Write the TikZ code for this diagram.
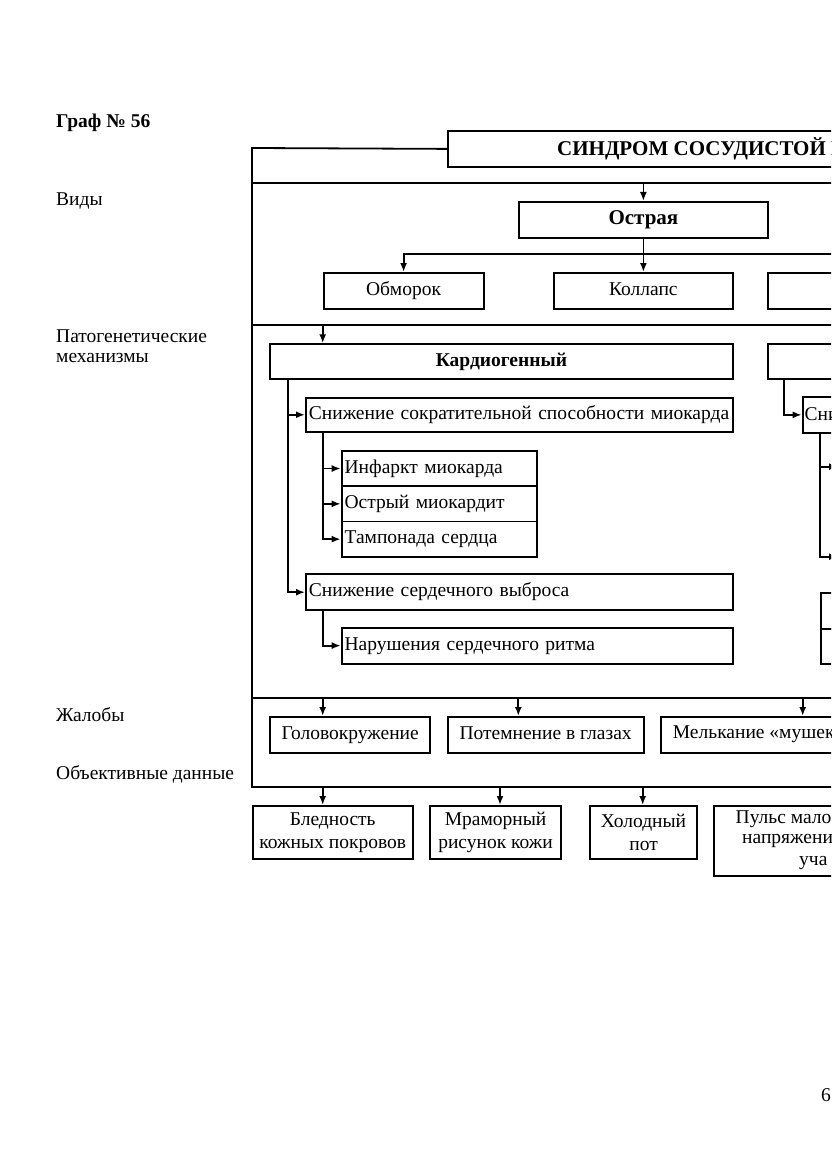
\documentclass[tikz,border=0pt]{standalone}
\usepackage{fontspec}
\setmainfont{Liberation Serif}
\usetikzlibrary{arrows.meta,calc}
\begin{document}
\begin{tikzpicture}[x=1pt,y=-1pt,
  font=\rmfamily\fontsize{19.5}{23}\selectfont,
  mbx/.style={draw, line width=1.8pt, inner sep=0pt, anchor=north west},
  bx/.style={mbx, text height=13.5pt, text depth=4.5pt},
  lbx/.style={bx, align=left, inner xsep=3pt},
  ln/.style={line width=1.8pt},
  ar/.style={line width=1.8pt, -{Latex[length=9pt,width=7pt]}},
  lab/.style={anchor=west, inner sep=0pt},
  bold/.style={font=\rmfamily\bfseries\fontsize{19.5}{23}\selectfont},
  bigbold/.style={font=\rmfamily\bfseries\fontsize{21}{24}\selectfont}]
\useasboundingbox (0,0) rectangle (831,1174);
\clip (0,0) rectangle (831,1174);

% left column labels
\node[lab, bold] (graf) at (56,123) {Граф № 56};
\node[lab] (vidy) at (56,201) {Виды};
\node[lab, align=left, font=\rmfamily\fontsize{19.5}{20}\selectfont, anchor=north west] (pat) at (56,330) {Патогенетические\\механизмы};
\node[lab] (zhal) at (56,715) {Жалобы};
\node[lab] (obj) at (56,774) {Объективные данные};

% band coordinates
\coordinate (topL) at (252,148);
\coordinate (bandA) at (252,183);
\coordinate (bandB) at (252,325);
\coordinate (bandC) at (252,698);
\coordinate (bandD) at (252,787);
\coordinate (bandAr) at (900,183);
\coordinate (bandBr) at (900,325);
\coordinate (bandCr) at (900,698);
\coordinate (bandDr) at (900,787);
\coordinate (colA) at (322.7,0);
\coordinate (colB) at (287.7,0);
\coordinate (colC) at (500,0);
\coordinate (colD) at (642.7,0);
\coordinate (colE) at (518.3,0);
\coordinate (colF) at (802.7,0);
\coordinate (colG) at (784.3,0);
\coordinate (colH) at (820,0);

% title box
\node[bx, minimum width=450, minimum height=36] (title) at (447,130) {};
\node[lab, bigbold] (titletxt) at (557,149) {СИНДРОМ СОСУДИСТОЙ Н};

% frame
\draw[ln, line join=miter] (title.west) -- (topL) -- (bandD) -- (bandDr);
\draw[ln] (bandA) -- (bandAr);
\draw[ln] (bandB) -- (bandBr);
\draw[ln] (bandC) -- (bandCr);

% kinds
\node[bx, bigbold, minimum width=249, minimum height=36] (ostr) at (518,201) {Острая};
\draw[ar] (ostr.north |- bandA) -- (ostr.north);
\node[bx, minimum width=160, minimum height=36] (obm) at (322.7,272) {Обморок};
\node[bx, minimum width=179, minimum height=36] (kol) at (553,272) {Коллапс};
\node[bx, minimum width=200, minimum height=36] (third) at (767,272) {};
\coordinate (hubR) at (900,254);
\draw[ar] (hubR) -| (obm.north);
\draw[ar] (ostr.south) -- (kol.north);

% pathogenesis: cardiogenic
\node[bx, bold, minimum width=462.4, minimum height=35] (kard) at (269.3,343.3) {Кардиогенный};
\draw[ar] (colA |- bandB) -- (colA |- kard.north);
\node[lbx, text width=420.7, minimum height=34.3] (snsok) at (305,396.7) {Снижение сократительной способности миокарда};
\node[lbx, text width=189.3, minimum height=35.3] (inf) at (340.7,450) {Инфаркт миокарда};
\node[lbx, text width=189.3, minimum height=35.3] (omk) at (340.7,485.3) {Острый миокардит};
\node[lbx, text width=189.3, minimum height=35.3] (tamp) at (340.7,520.6) {Тампонада сердца};
\node[lbx, text width=420.7, minimum height=36] (snvyb) at (305,573.3) {Снижение сердечного выброса};
\node[lbx, text width=385, minimum height=36] (nar) at (340.7,626.7) {Нарушения сердечного ритма};

\draw[ar] (colB |- kard.south) |- (snsok.west);
\draw[ar] (colB |- kard.south) |- (snvyb.west);
\draw[ar] (colA |- snsok.south) |- (inf.west);
\draw[ar] (colA |- snsok.south) |- (omk.west);
\draw[ar] (colA |- snsok.south) |- (tamp.west);
\draw[ar] (colA |- snvyb.south) |- (nar.west);

% pathogenesis: right (clipped)
\node[bx, minimum width=200, minimum height=35] (mech2) at (766.7,343.3) {};
\node[bx, minimum width=200, minimum height=35.5] (sn2) at (801.7,396.2) {};
\node[lab] (sn2txt) at (804.5,414) {Сни};
\draw[ar] (colG |- mech2.south) |- (sn2.west);
\coordinate (r1) at (838,466.7);
\coordinate (r2) at (838,556.7);
\draw[ar] (colH |- sn2.south) |- (r1);
\draw[ar] (colH |- sn2.south) |- (r2);
\node[bx, minimum width=200, minimum height=36] (rb1) at (820,591.7) {};
\node[bx, minimum width=200, minimum height=35] (rb2) at (820,627.7) {};

% complaints
\node[bx, minimum width=160, minimum height=35.7] (gol) at (269.3,716) {Головокружение};
\node[bx, minimum width=196, minimum height=35.7] (pot) at (446.7,716) {Потемнение в глазах};
\node[bx, minimum width=250, minimum height=35.7] (mel) at (660,716) {};
\node[lab] (meltxt) at (672.7,734) {Мелькание «мушек};
\draw[ar] (colA |- bandC) -- (colA |- gol.north);
\draw[ar] (colE |- bandC) -- (colE |- pot.north);
\draw[ar] (colF |- bandC) -- (colF |- mel.north);

% objective data
\node[mbx, align=center, minimum width=159.7, minimum height=53] (bled) at (252,805) {Бледность\\кожных покровов};
\node[mbx, align=center, minimum width=130.7, minimum height=53] (mram) at (429.3,805) {Мраморный\\рисунок кожи};
\node[mbx, align=center, minimum width=106.7, minimum height=53] (hol) at (589.3,805) {Холодный\\пот};
\node[mbx, minimum width=250, minimum height=70] (puls) at (713.3,805) {};
\node[lab] (pl1) at (735.5,819) {Пульс мало};
\node[lab] (pl2) at (742,841) {напряжени};
\node[lab] (pl3) at (799,863) {уча};
\draw[ar] (colA |- bandD) -- (colA |- bled.north);
\draw[ar] (colC |- bandD) -- (colC |- mram.north);
\draw[ar] (colD |- bandD) -- (colD |- hol.north);

% page number
\node[lab] (pnum) at (821,1095) {6};
\end{tikzpicture}
\end{document}
